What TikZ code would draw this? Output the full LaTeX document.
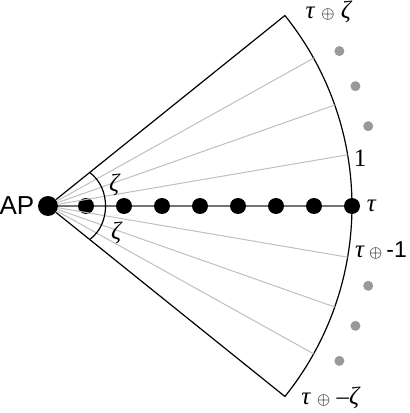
\documentclass[tikz,border=0pt]{standalone}
\usepackage{fontspec}
\setmainfont{Liberation Serif}
\setsansfont{Liberation Sans}
\usetikzlibrary{positioning}
\newcommand\opsym{{\fontsize{8.5}{9}\selectfont$\oplus$}}
\tikzset{
  station/.style={circle,fill=black,inner sep=0pt,minimum size=8pt},
  apdot/.style={circle,fill=black,inner sep=0pt,minimum size=10pt},
  ghost/.style={circle,fill=black!40,inner sep=0pt,minimum size=5pt},
  rim/.style={draw=black,line width=0.6pt},
  ray/.style={draw=black!25,line width=0.5pt},
  axis/.style={draw=black!55,line width=1pt},
  lbl/.style={inner sep=0pt,font=\fontsize{12.5}{14}\selectfont}
}
\begin{document}
\begin{tikzpicture}[x=0.5pt,y=0.5pt]
  \useasboundingbox (-48,-207) rectangle (361,206);
  % access point and the stations on the axis
  \node[apdot] (ap) at (0,0) {};
  \foreach \i in {1,...,8}
    \node[station] (d\i) at (38*\i,0) {};
  % outline of the sector
  \coordinate (rimtop) at (38.8:304);
  \coordinate (rimbot) at (-38.8:304);
  \draw[rim] (ap) -- (rimtop) arc[start angle=38.8,end angle=-38.8,radius=304] -- (ap);
  % rays
  \foreach \a [count=\i] in {29.1,19.4,9.7,-9.7,-19.4,-29.1} {
    \coordinate (r\i) at (\a:304);
    \draw[ray] (ap) -- (r\i);
  }
  \draw[axis] (ap) -- (d1);
  \foreach \i [evaluate=\i as \j using int(\i+1)] in {1,...,7}
    \draw[axis] (d\i) -- (d\j);
  % angle mark
  \coordinate (ztop) at (38.8:53.5);
  \coordinate (zbot) at (-38.8:53.5);
  \draw[rim] (ztop) to[bend left=54] (zbot);
  % dots beyond the rim
  \foreach \a [count=\i] in {28,21.3,14,-14,-21.3,-28}
    \node[ghost] (g\i) at (\a:330) {};
  % labels
  \node[lbl,font=\sffamily\fontsize{13}{15}\selectfont,left=1.5pt of ap] (aplbl) {AP};
  \node[lbl,right=3pt of d8] (tau) {\textit{τ}};
  \node[lbl] (one) at (312,48) {1};
  \node[lbl] (minus) at (333,-44) {\textit{τ}\,\opsym\,\textsf{\fontsize{11.5}{13}\selectfont-1}};
  \node[lbl] (plus) at (281,194) {\textit{τ} \opsym{} \textit{ζ}};
  \node[lbl] (minz) at (283,-192) {\textit{τ} \opsym{} –\textit{ζ}};
  \node[lbl] (zup) at (67,21) {\textit{ζ}};
  \node[lbl] (zdn) at (69,-27) {\textit{ζ}};
\end{tikzpicture}
\end{document}
